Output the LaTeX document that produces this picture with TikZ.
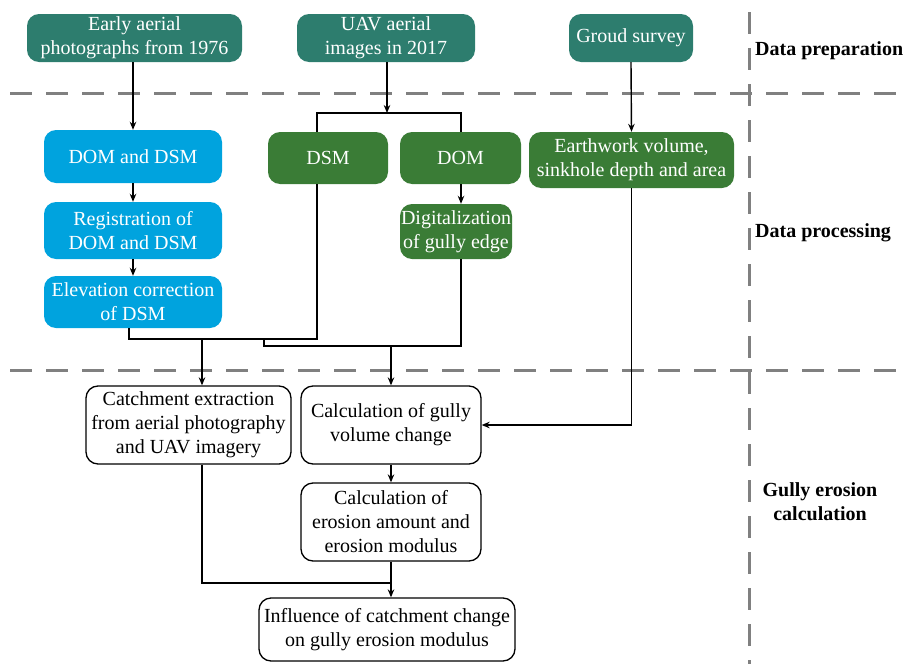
\documentclass[tikz,border=0pt]{standalone}
\usepackage{fontspec}
\setmainfont{Liberation Serif}
\usetikzlibrary{arrows.meta}
\definecolor{cTeal}{RGB}{45,125,110}
\definecolor{cCyan}{RGB}{0,163,222}
\definecolor{cGreen}{RGB}{58,124,54}
\definecolor{cDash}{RGB}{128,128,128}
\tikzset{
  box/.style={rounded corners=12pt, align=center, inner sep=0pt, font=\fontsize{20}{24}\selectfont},
  tealbox/.style={box, fill=cTeal, text=white},
  cyanbox/.style={box, fill=cCyan, text=white},
  greenbox/.style={box, fill=cGreen, text=white},
  whitebox/.style={box, draw=black, line width=1.3pt, fill=white, text=black},
  conn/.style={draw=black, line width=1.4pt},
  arr/.style={conn, -{Stealth[length=8pt,width=6.5pt]}},
  dashline/.style={draw=cDash, line width=3pt, dash pattern=on 22pt off 14pt},
  lbl/.style={font=\fontsize{20}{24}\selectfont\bfseries, align=center, inner sep=0pt}
}
\begin{document}
\begin{tikzpicture}[x=1pt,y=-1pt]
\useasboundingbox (0,0) rectangle (903,664);
% dashed separators
\draw[dashline] (10,93) -- (903,93);
\draw[dashline] (10,370) -- (903,370);
\draw[dashline] (749,12) -- (749,664);
% labels
\node[lbl, anchor=west] (lprep) at (755,51) {Data preparation};
\node[lbl, anchor=west] (lproc) at (755,233) {Data processing};
\node[lbl] (lgully) at (820,502) {Gully erosion\\calculation};
% top row
\node[tealbox, minimum width=215pt, minimum height=48pt] (e76) at (134.5,38) {Early aerial\\photographs from 1976};
\node[tealbox, minimum width=178pt, minimum height=48pt] (uav) at (386,38) {UAV aerial\\images in 2017};
\node[tealbox, minimum width=124pt, minimum height=48pt] (gs) at (631,38) {Groud survey};
% processing
\node[cyanbox, minimum width=178pt, minimum height=53pt] (domdsm) at (133,156.5) {DOM and DSM};
\node[cyanbox, minimum width=178pt, minimum height=57pt] (reg) at (133,230.5) {Registration of\\DOM and DSM};
\node[cyanbox, minimum width=178pt, minimum height=52pt] (elev) at (133,302) {Elevation correction\\of DSM};
\node[greenbox, minimum width=120pt, minimum height=52pt] (dsm) at (328,158) {DSM};
\node[greenbox, minimum width=121pt, minimum height=52pt] (dom) at (460.5,158) {DOM};
\node[greenbox, minimum width=112pt, minimum height=55pt] (dig) at (456,231.5) {Digitalization\\of gully edge};
\node[greenbox, minimum width=205pt, minimum height=56pt] (earth) at (631.5,160) {Earthwork volume,\\sinkhole depth and area};
% calculation
\node[whitebox, minimum width=205pt, minimum height=78pt] (catch) at (188.5,425) {Catchment extraction\\from aerial photography\\and UAV imagery};
\node[whitebox, minimum width=180pt, minimum height=78pt] (calc) at (391,425) {Calculation of gully\\volume change};
\node[whitebox, minimum width=180pt, minimum height=78pt] (ero) at (391,522) {Calculation of\\erosion amount and\\erosion modulus};
\node[whitebox, minimum width=256pt, minimum height=63pt] (infl) at (387,629.5) {Influence of catchment change\\on gully erosion modulus};
% coordinates
\coordinate (ubar) at (387,113);
\coordinate (bl) at (317,113);
\coordinate (br) at (461,113);
\coordinate (j1) at (129,339);
\coordinate (j2) at (202,339);
\coordinate (j3) at (264,346);
\coordinate (j4) at (202,583);
% connectors
\draw[arr] (domdsm.north |- e76.south) -- (domdsm.north);
\draw[arr] (domdsm.south) -- (reg.north);
\draw[arr] (reg.south) -- (elev.north);
\draw[arr] (uav.south -| ubar) -- (ubar);
\draw[conn] (dsm.north -| bl) -- (bl) -- (br) -- (dom.north -| br);
\draw[arr] (gs.south) -- (earth.north);
\draw[arr] (dom.south -| br) -- (dig.north -| br);
\draw[conn] (elev.south -| j1) -- (j1) -- (j1 -| bl) -- (dsm.south -| bl);
\draw[arr] (j2) -- (catch.north -| j2);
\draw[conn] (dig.south -| br) -- (br |- j3) -- (j3) -- (j3 |- j1);
\draw[arr] (calc.north |- j3) -- (calc.north);
\draw[arr] (earth.south) -- (earth.south |- calc.east) -- (calc.east);
\draw[arr] (calc.south) -- (ero.north);
\draw[conn] (catch.south -| j4) -- (j4) -- (j4 -| ero.south);
\draw[arr] (ero.south) -- (ero.south |- infl.north);
\end{tikzpicture}
\end{document}
